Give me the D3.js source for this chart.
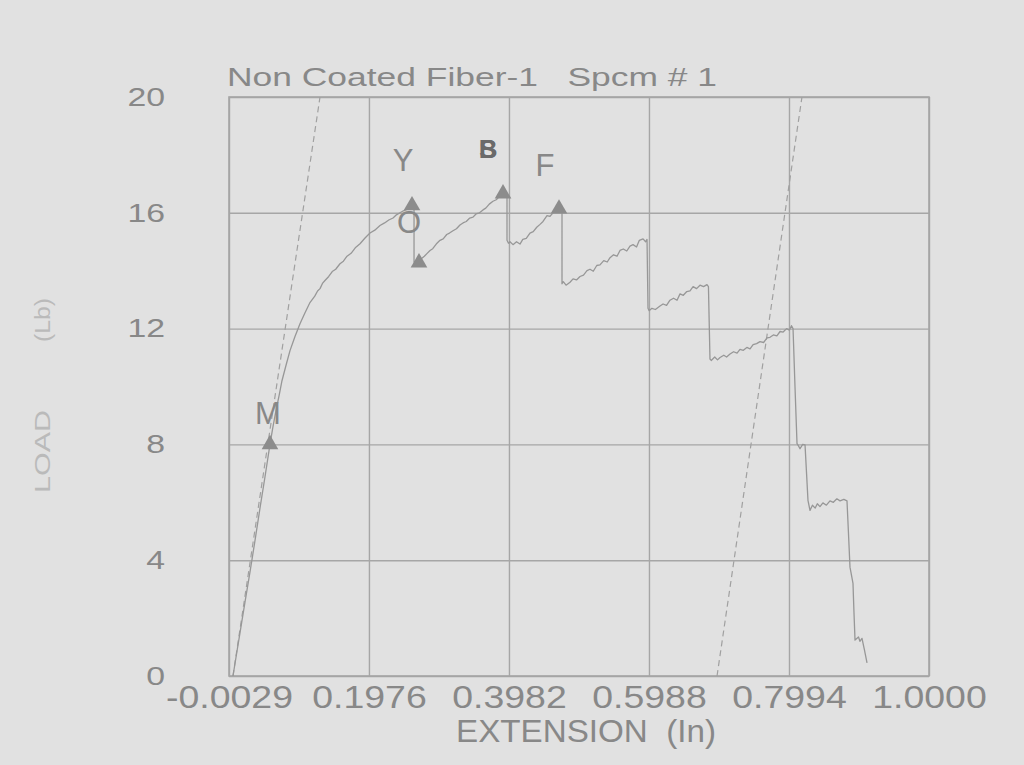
<!DOCTYPE html>
<html>
<head>
<meta charset="utf-8">
<script src="https://cdn.jsdelivr.net/npm/d3@7"></script>
<style>
  html, body { margin: 0; padding: 0; background: #e1e1e1; }
  svg { display: block; }
  text { font-family: "Liberation Sans", Arial, sans-serif; }
</style>
</head>
<body>
<svg id="chart" width="1024" height="765"></svg>
<script>
// ---- data ----
const titleText = "Non Coated Fiber-1   Spcm # 1";
const xLabelText = "EXTENSION  (In)";
const yLabelParts = ["LOAD", "(Lb)"];
const xTicks = [-0.0029, 0.1976, 0.3982, 0.5988, 0.7994, 1.0000];
const yTicks = [0, 4, 8, 12, 16, 20];

// load-extension trace [extension, load]
const loadCurve = [
  [0.0028,0],[0.0075,0.7],[0.0129,1.5],[0.0200,2.55],[0.0272,3.6],[0.0345,4.7],[0.0415,5.8],
  [0.0488,6.9],[0.0558,8.0],[0.0600,8.6],[0.0644,9.17],[0.0690,9.7],[0.0730,10.2],[0.0790,10.75],
  [0.0845,11.24],[0.0915,11.72],[0.0988,12.17],[0.1060,12.55],[0.1131,12.9],[0.1200,13.12],
  [0.1240,13.3],[0.1275,13.38],[0.1310,13.56],[0.1346,13.66],[0.1400,13.8],[0.1450,13.97],
  [0.1500,14.05],[0.1561,14.24],[0.1610,14.33],[0.1662,14.5],[0.1720,14.6],[0.1780,14.79],
  [0.1848,14.93],[0.1920,15.13],[0.1991,15.3],[0.2060,15.4],[0.2134,15.56],[0.2200,15.65],
  [0.2260,15.75],[0.2321,15.82],[0.2370,15.93],[0.2421,16.0],[0.2470,16.07],[0.2521,16.12],
  [0.2560,16.18],[0.2593,16.22],[0.2622,16.2],[0.2622,14.3],[0.2693,14.28],
  [0.2730,14.42],[0.2770,14.5],[0.2810,14.6],[0.2851,14.7],[0.2890,14.76],[0.2940,14.92],
  [0.2994,15.05],[0.3040,15.1],[0.3090,15.25],[0.3130,15.3],[0.3180,15.38],[0.3230,15.45],
  [0.3280,15.58],[0.3324,15.65],[0.3370,15.7],[0.3420,15.82],[0.3467,15.85],[0.3510,15.96],
  [0.3560,16.0],[0.3610,16.1],[0.3650,16.16],[0.3700,16.3],[0.3753,16.4],[0.3800,16.45],
  [0.3850,16.58],[0.3897,16.62],[0.3940,16.65],[0.3954,16.6],[0.3954,15.05],
  [0.3975,14.95],[0.3997,15.0],[0.4040,14.9],[0.4090,15.0],[0.4140,14.92],[0.4180,15.08],
  [0.4230,15.12],[0.4283,15.3],[0.4330,15.35],[0.4380,15.5],[0.4427,15.6],[0.4470,15.7],
  [0.4527,15.9],[0.4570,15.88],[0.4613,16.0],[0.4660,16.05],[0.4699,16.14],[0.4742,16.12],
  [0.4742,13.55],[0.4760,13.62],[0.4800,13.5],[0.4857,13.6],[0.4900,13.72],[0.4950,13.68],
  [0.5000,13.8],[0.5050,13.85],[0.5100,14.0],[0.5143,14.05],[0.5190,13.98],[0.5240,14.18],
  [0.5286,14.2],[0.5340,14.35],[0.5390,14.3],[0.5430,14.45],[0.5480,14.55],[0.5530,14.5],
  [0.5573,14.7],[0.5620,14.75],[0.5670,14.68],[0.5716,14.85],[0.5760,14.9],[0.5810,14.82],
  [0.5850,15.05],[0.5903,15.1],[0.5940,15.0],[0.5960,15.08],[0.5974,12.7],[0.5990,12.62],
  [0.6030,12.7],[0.6080,12.66],[0.6146,12.78],[0.6190,12.85],[0.6240,12.8],[0.6289,12.98],
  [0.6340,13.05],[0.6390,12.98],[0.6433,13.2],[0.6480,13.15],[0.6530,13.28],[0.6576,13.3],
  [0.6620,13.45],[0.6670,13.38],[0.6719,13.5],[0.6770,13.45],[0.6819,13.52],[0.6840,13.45],
  [0.6862,10.95],[0.6880,10.9],[0.6930,11.02],[0.6970,10.92],[0.7006,11.0],[0.7060,11.08],
  [0.7100,11.02],[0.7149,11.12],[0.7200,11.2],[0.7250,11.15],[0.7292,11.28],[0.7340,11.25],
  [0.7390,11.35],[0.7436,11.3],[0.7480,11.45],[0.7530,11.48],[0.7579,11.55],[0.7630,11.52],
  [0.7680,11.68],[0.7722,11.7],[0.7770,11.78],[0.7820,11.75],[0.7866,11.9],[0.7910,11.88],
  [0.7960,12.0],[0.8000,11.95],[0.8030,12.1],[0.8052,12.0],[0.8080,10.0],[0.8109,8.03],
  [0.8130,7.95],[0.8152,7.85],[0.8190,8.0],[0.8224,7.98],[0.8250,6.8],[0.8266,6.07],
  [0.8295,5.72],[0.8330,5.9],[0.8370,5.8],[0.8400,5.95],[0.8438,5.85],[0.8480,5.98],
  [0.8530,5.9],[0.8581,6.05],[0.8630,6.0],[0.8680,6.12],[0.8725,6.05],[0.8780,6.1],
  [0.8825,6.05],[0.8845,5.0],[0.8868,3.76],[0.8911,3.2],[0.8925,2.2],[0.8940,1.24],
  [0.8990,1.35],[0.9010,1.2],[0.9040,1.3],[0.9075,0.9],[0.9112,0.45]
];

// dashed offset (modulus) lines [extension, load]
const modulusLine1 = [[0.0028, 0], [0.1275, 20]];
const modulusLine2 = [[0.6963, 0], [0.8180, 20]];

// event markers
const markerNames = ["M", "Y", "O", "B", "F"];
const markerExt  = [0.0558, 0.2593, 0.2693, 0.3897, 0.4699];
const markerLoad = [8.0, 16.25, 14.28, 16.66, 16.14];

// event labels (name, extension / load position of the text baseline)
const labelNames = ["M", "Y", "O", "B", "S", "F"];
const labelExt   = [0.0530, 0.2464, 0.2550, 0.3682, 0.3682, 0.4498];
const labelLoad  = [8.72, 17.45, 15.31, 17.9, 17.9, 17.28];

// ---- layout ----
const svg = d3.select("#chart");
const L = 229, R = 929, T = 97, B = 676;
const ink = "#888888", gridC = "#a6a6a6";

const x = d3.scaleLinear().domain([-0.0029, 1.0]).range([L, R]);
const y = d3.scaleLinear().domain([0, 20]).range([B, T]);

function stretch(sel, factor) {
  sel.each(function () {
    const w = this.getComputedTextLength();
    d3.select(this).attr("textLength", w * factor).attr("lengthAdjust", "spacingAndGlyphs");
  });
}

// grid + ticks
const gx = svg.append("g").attr("transform", `translate(0,${B})`)
  .call(d3.axisBottom(x).tickValues(xTicks).tickFormat(d => d.toFixed(4))
    .tickSize(-(B - T)).tickPadding(8));
gx.select(".domain").remove();
gx.selectAll(".tick line").attr("stroke", gridC).attr("stroke-width", 1.4);
gx.selectAll(".tick text").attr("fill", ink).attr("font-size", 32)
  .attr("dy", "0.74em").attr("font-family", "Liberation Sans");
stretch(gx.selectAll(".tick text"), 1.17);

const gy = svg.append("g").attr("transform", `translate(${L},0)`)
  .call(d3.axisLeft(y).tickValues(yTicks).tickFormat(d3.format("d"))
    .tickSize(-(R - L)).tickPadding(64));
gy.select(".domain").remove();
gy.selectAll(".tick line").attr("stroke", gridC).attr("stroke-width", 1.4);
gy.selectAll(".tick text").attr("fill", ink).attr("font-size", 26)
  .attr("font-family", "Liberation Sans");
stretch(gy.selectAll(".tick text"), 1.3);

// border
svg.append("rect").attr("x", L).attr("y", T).attr("width", R - L).attr("height", B - T)
  .attr("fill", "none").attr("stroke", gridC).attr("stroke-width", 1.6);

// dashed lines
const line = d3.line().x(d => x(d[0])).y(d => y(d[1]));
[modulusLine1, modulusLine2].forEach(dl => {
  svg.append("path").attr("d", line(dl)).attr("fill", "none")
    .attr("stroke", "#a0a0a0").attr("stroke-width", 1.2).attr("stroke-dasharray", "6,4");
});

// curve
svg.append("path").attr("d", line(loadCurve)).attr("fill", "none")
  .attr("stroke", "#979797").attr("stroke-width", 1.3).attr("stroke-linejoin", "round");

// markers
const tri = d3.symbol().type(d3.symbolTriangle).size(120);
markerNames.forEach((n, i) => {
  svg.append("path").attr("d", tri())
    .attr("transform", `translate(${x(markerExt[i])},${y(markerLoad[i])})`)
    .attr("fill", "#8c8c8c");
});

// labels
labelNames.forEach((n, i) => {
  const dark = (n === "B" || n === "S");
  svg.append("text").attr("x", x(labelExt[i])).attr("y", y(labelLoad[i]))
    .attr("text-anchor", "middle").attr("font-size", dark ? 26 : 31)
    .attr("font-weight", dark ? "bold" : "normal")
    .attr("fill", dark ? "#6a6a6a" : ink).text(n);
});

// title
svg.append("text").attr("x", 227).attr("y", 86).attr("font-size", 26)
  .attr("fill", ink).attr("textLength", 490).attr("lengthAdjust", "spacingAndGlyphs")
  .style("white-space", "pre").text(titleText);

// x label
svg.append("text").attr("x", 456).attr("y", 742).attr("font-size", 31)
  .attr("fill", ink).attr("textLength", 260).attr("lengthAdjust", "spacingAndGlyphs")
  .style("white-space", "pre").text(xLabelText);

// y label (two pieces, rotated)
svg.append("text").attr("transform", "translate(50,493) rotate(-90)")
  .attr("font-size", 22).attr("fill", "#bababa")
  .attr("textLength", 83).attr("lengthAdjust", "spacingAndGlyphs").text(yLabelParts[0]);
svg.append("text").attr("transform", "translate(50,342) rotate(-90)")
  .attr("font-size", 22).attr("fill", "#bababa")
  .attr("textLength", 44).attr("lengthAdjust", "spacingAndGlyphs").text(yLabelParts[1]);
</script>
</body>
</html>
